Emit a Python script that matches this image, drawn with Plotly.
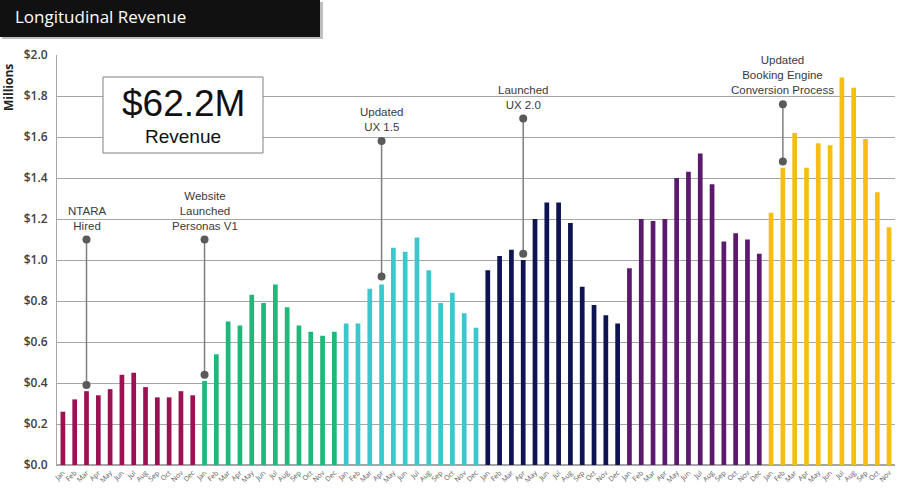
import plotly.graph_objects as go

# ---- data ----
months = ["Jan", "Feb", "Mar", "Apr", "May", "Jun", "Jul", "Aug", "Sep", "Oct", "Nov", "Dec"]
years = ["Y1", "Y2", "Y3", "Y4", "Y5", "Y6"]
year_colors = ["#9B1152", "#1DB97A", "#3CC7CF", "#0D1451", "#5B1A6E", "#F7BE12"]

rev_y1 = [0.26, 0.32, 0.36, 0.34, 0.37, 0.44, 0.45, 0.38, 0.33, 0.33, 0.36, 0.34]
rev_y2 = [0.41, 0.54, 0.70, 0.68, 0.83, 0.79, 0.88, 0.77, 0.68, 0.65, 0.63, 0.65]
rev_y3 = [0.69, 0.69, 0.86, 0.88, 1.06, 1.04, 1.11, 0.95, 0.79, 0.84, 0.74, 0.67]
rev_y4 = [0.95, 1.02, 1.05, 1.00, 1.20, 1.28, 1.28, 1.18, 0.87, 0.78, 0.73, 0.69]
rev_y5 = [0.96, 1.20, 1.19, 1.20, 1.40, 1.43, 1.52, 1.37, 1.09, 1.13, 1.10, 1.03]
rev_y6 = [1.23, 1.45, 1.62, 1.45, 1.57, 1.56, 1.89, 1.84, 1.59, 1.33, 1.16]
revenue_by_year = [rev_y1, rev_y2, rev_y3, rev_y4, rev_y5, rev_y6]

event_labels = ["NTARA<br>Hired", "Website<br>Launched<br>Personas V1", "Updated<br>UX 1.5",
                "Launched<br>UX 2.0", "Updated<br>Booking Engine<br>Conversion Process"]
event_year = ["Y1", "Y2", "Y3", "Y4", "Y6"]
event_month = ["Mar", "Jan", "Apr", "Apr", "Feb"]
event_bottom = [0.39, 0.44, 0.92, 1.03, 1.48]
event_top = [1.10, 1.10, 1.58, 1.69, 1.76]

total_value = "$62.2M"
total_label = "Revenue"
title_text = "Longitudinal Revenue"
y_title = "Millions"

# ---- build ----
x_keys, y_vals, colors, tick_text = [], [], [], []
for yr, vals, col in zip(years, revenue_by_year, year_colors):
    for m, v in zip(months, vals):
        x_keys.append(f"{yr} {m}")
        y_vals.append(v)
        colors.append(col)
        tick_text.append(m)

fig = go.Figure()
fig.add_trace(go.Bar(x=x_keys, y=y_vals, marker=dict(color=colors, line=dict(width=0)),
                     showlegend=False, hoverinfo="x+y"))

for lab, yr, m, b, t in zip(event_labels, event_year, event_month, event_bottom, event_top):
    key = f"{yr} {m}"
    fig.add_trace(go.Scatter(x=[key, key], y=[b, t], mode="lines+markers",
                             line=dict(color="#7F7F7F", width=1.5),
                             marker=dict(color="#5A5A5A", size=8),
                             showlegend=False, cliponaxis=False, hoverinfo="skip"))
    fig.add_annotation(x=key, y=t, text=lab, showarrow=False, yanchor="bottom", yshift=6,
                       font=dict(family="Liberation Sans, Arial", size=11.5, color="#3A3A3A"),
                       align="center")

L, R, T, B = 57, 5, 55, 33
W, H = 900, 498
pw, ph = W - L - R, H - T - B

def px(x):
    return (x - L) / pw

def py(y):
    return (H - B - y) / ph

# title bar
fig.add_shape(type="rect", xref="paper", yref="paper", x0=px(2), x1=px(323), y0=py(39), y1=py(2),
              fillcolor="#BFBFBF", line=dict(width=0), layer="above")
fig.add_shape(type="rect", xref="paper", yref="paper", x0=px(0), x1=px(320), y0=py(37), y1=py(0),
              fillcolor="#111111", line=dict(width=0), layer="above")
fig.add_annotation(xref="paper", yref="paper", x=px(13), y=py(17), xanchor="left", yanchor="middle",
                   text=title_text, showarrow=False,
                   font=dict(family="Open Sans", size=17, color="white"))

# revenue box
fig.add_shape(type="rect", xref="paper", yref="paper", x0=px(103), x1=px(263), y0=py(153), y1=py(77),
              fillcolor="white", line=dict(color="#808080", width=1), layer="above")
fig.add_annotation(xref="paper", yref="paper", x=px(183), y=py(103), text=total_value, showarrow=False,
                   font=dict(family="Liberation Sans, Arial", size=37, color="#111111"),
                   xanchor="center", yanchor="middle")
fig.add_annotation(xref="paper", yref="paper", x=px(183), y=py(136), text=total_label, showarrow=False,
                   font=dict(family="Liberation Sans, Arial", size=19, color="#111111"),
                   xanchor="center", yanchor="middle")

# y axis title
fig.add_annotation(xref="paper", yref="paper", x=px(9), y=py(88), text=f"<b>{y_title}</b>",
                   showarrow=False, textangle=-90, xanchor="center", yanchor="middle",
                   font=dict(family="Open Sans", size=12, color="#222222"))

fig.update_layout(
    width=W, height=H,
    margin=dict(l=L, r=R, t=T, b=B, autoexpand=False),
    paper_bgcolor="white", plot_bgcolor="white",
    bargap=0.6,
    font=dict(family="Open Sans", color="#404040"),
)
fig.update_xaxes(
    type="category", tickmode="array", tickvals=x_keys, ticktext=tick_text,
    tickangle=-45, tickfont=dict(size=7, color="#595959"),
    showline=True, linecolor="#A6A6A6", linewidth=1, showgrid=False,
    ticks="", range=[-0.5, len(x_keys) - 0.5], automargin=False,
)
fig.update_yaxes(
    range=[0, 2.0], dtick=0.2, tickprefix="$", tickformat=".1f",
    tickfont=dict(size=12, color="#404040", family="Open Sans", weight=600),
    showgrid=True, gridcolor="#A6A6A6", gridwidth=1,
    showline=True, linecolor="#A6A6A6", linewidth=1,
    zeroline=True, zerolinecolor="#A6A6A6", ticks="", ticklabelstandoff=6,
    automargin=False,
)

fig.write_html("out.html", config={"displayModeBar": False},
               post_script="document.body.style.margin='0';document.body.style.overflow='hidden';")
